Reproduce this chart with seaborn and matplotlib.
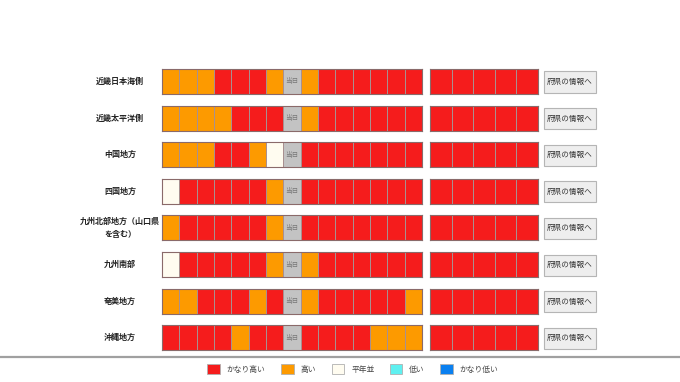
import matplotlib.pyplot as plt
import numpy as np
import seaborn as sns
from matplotlib.colors import ListedColormap
from matplotlib.lines import Line2D
from matplotlib.patches import Patch, Rectangle

sns.set_style("white")
plt.rcParams["font.family"] = ["Noto Sans CJK JP", "DejaVu Sans"]

# 0=当日, 1=かなり低い, 2=低い, 3=平年並, 4=高い, 5=かなり高い
regions = ["近畿日本海側", "近畿太平洋側", "中国地方", "四国地方",
           "九州北部地方（山口県\nを含む）", "九州南部", "奄美地方", "沖縄地方"]
left_levels = [
    [4, 4, 4, 5, 5, 5, 4, 0, 4, 5, 5, 5, 5, 5, 5],
    [4, 4, 4, 4, 5, 5, 5, 0, 4, 5, 5, 5, 5, 5, 5],
    [4, 4, 4, 5, 5, 4, 3, 0, 5, 5, 5, 5, 5, 5, 5],
    [3, 5, 5, 5, 5, 5, 4, 0, 5, 5, 5, 5, 5, 5, 5],
    [4, 5, 5, 5, 5, 5, 4, 0, 5, 5, 5, 5, 5, 5, 5],
    [3, 5, 5, 5, 5, 5, 4, 0, 4, 5, 5, 5, 5, 5, 5],
    [4, 4, 5, 5, 5, 4, 5, 0, 4, 5, 5, 5, 5, 5, 4],
    [5, 5, 5, 5, 4, 5, 5, 0, 5, 5, 5, 5, 4, 4, 4],
]
right_levels = [[5, 5, 5, 5, 5] for _ in regions]
legend_labels = ["かなり高い", "高い", "平年並", "低い", "かなり低い"]
legend_levels = [5, 4, 3, 2, 1]
level_colors = ["#c3c3c3", "#0a80f0", "#5ff0f0", "#fffcf0", "#fd9a00", "#f51c1c"]
cmap = ListedColormap(level_colors)

W, H = 680, 382
fig = plt.figure(figsize=(W / 100, H / 100), dpi=100)


def box(x0, y0, x1, y1):
    # pixel box (top-left origin) -> figure fraction rect
    return [x0 / W, 1 - y1 / H, (x1 - x0) / W, (y1 - y0) / H]


for i, name in enumerate(regions):
    top = 69 + 36.6 * i
    bot = top + 25
    yc = (top + bot) / 2

    axl = fig.add_axes(box(162, top, 422, bot))
    sns.heatmap(np.array([left_levels[i]]), ax=axl, cmap=cmap, vmin=-0.5, vmax=5.5,
                cbar=False, linewidths=0.6, linecolor="#a89090",
                xticklabels=False, yticklabels=False)
    for j, v in enumerate(left_levels[i]):
        if v == 0:
            axl.text(j + 0.5, 0.5, "当日", ha="center", va="center",
                     fontsize=4.8, color="#777777")
    for s in axl.spines.values():
        s.set_visible(True)
        s.set_color("#8a6a6a")
        s.set_linewidth(0.8)

    axr = fig.add_axes(box(430, top, 538, bot))
    sns.heatmap(np.array([right_levels[i]]), ax=axr, cmap=cmap, vmin=-0.5, vmax=5.5,
                cbar=False, linewidths=0.6, linecolor="#a89090",
                xticklabels=False, yticklabels=False)
    for s in axr.spines.values():
        s.set_visible(True)
        s.set_color("#8a6a6a")
        s.set_linewidth(0.8)

    fig.text(120 / W, 1 - yc / H, name, ha="center", va="center",
             fontsize=5.8, fontweight="bold", color="#222222", linespacing=1.6)

    b = box(544, top + 2.5, 596, bot - 1.5)
    fig.add_artist(Rectangle((b[0], b[1]), b[2], b[3], transform=fig.transFigure,
                             facecolor="#eeeeee", edgecolor="#b5b5b5", linewidth=0.8))
    fig.text(570 / W, 1 - (yc + 0.5) / H, "府県の情報へ", ha="center", va="center",
             fontsize=5.5, color="#333333")

fig.add_artist(Line2D([0, 1], [1 - 356.5 / H, 1 - 356.5 / H], transform=fig.transFigure,
                      color="#a0a0a0", linewidth=1.6))

handles = [Patch(facecolor=level_colors[v], edgecolor="#b0b0b0", linewidth=0.6)
           for v in legend_levels]
fig.legend(handles, legend_labels, loc="center", ncol=5,
           bbox_to_anchor=(353 / W, 1 - 369 / H), frameon=False, fontsize=5.6,
           handlelength=1.6, handleheight=1.6, handletextpad=0.9, columnspacing=2.0,
           labelcolor="#444444")

fig.savefig("out.png", dpi=100)
